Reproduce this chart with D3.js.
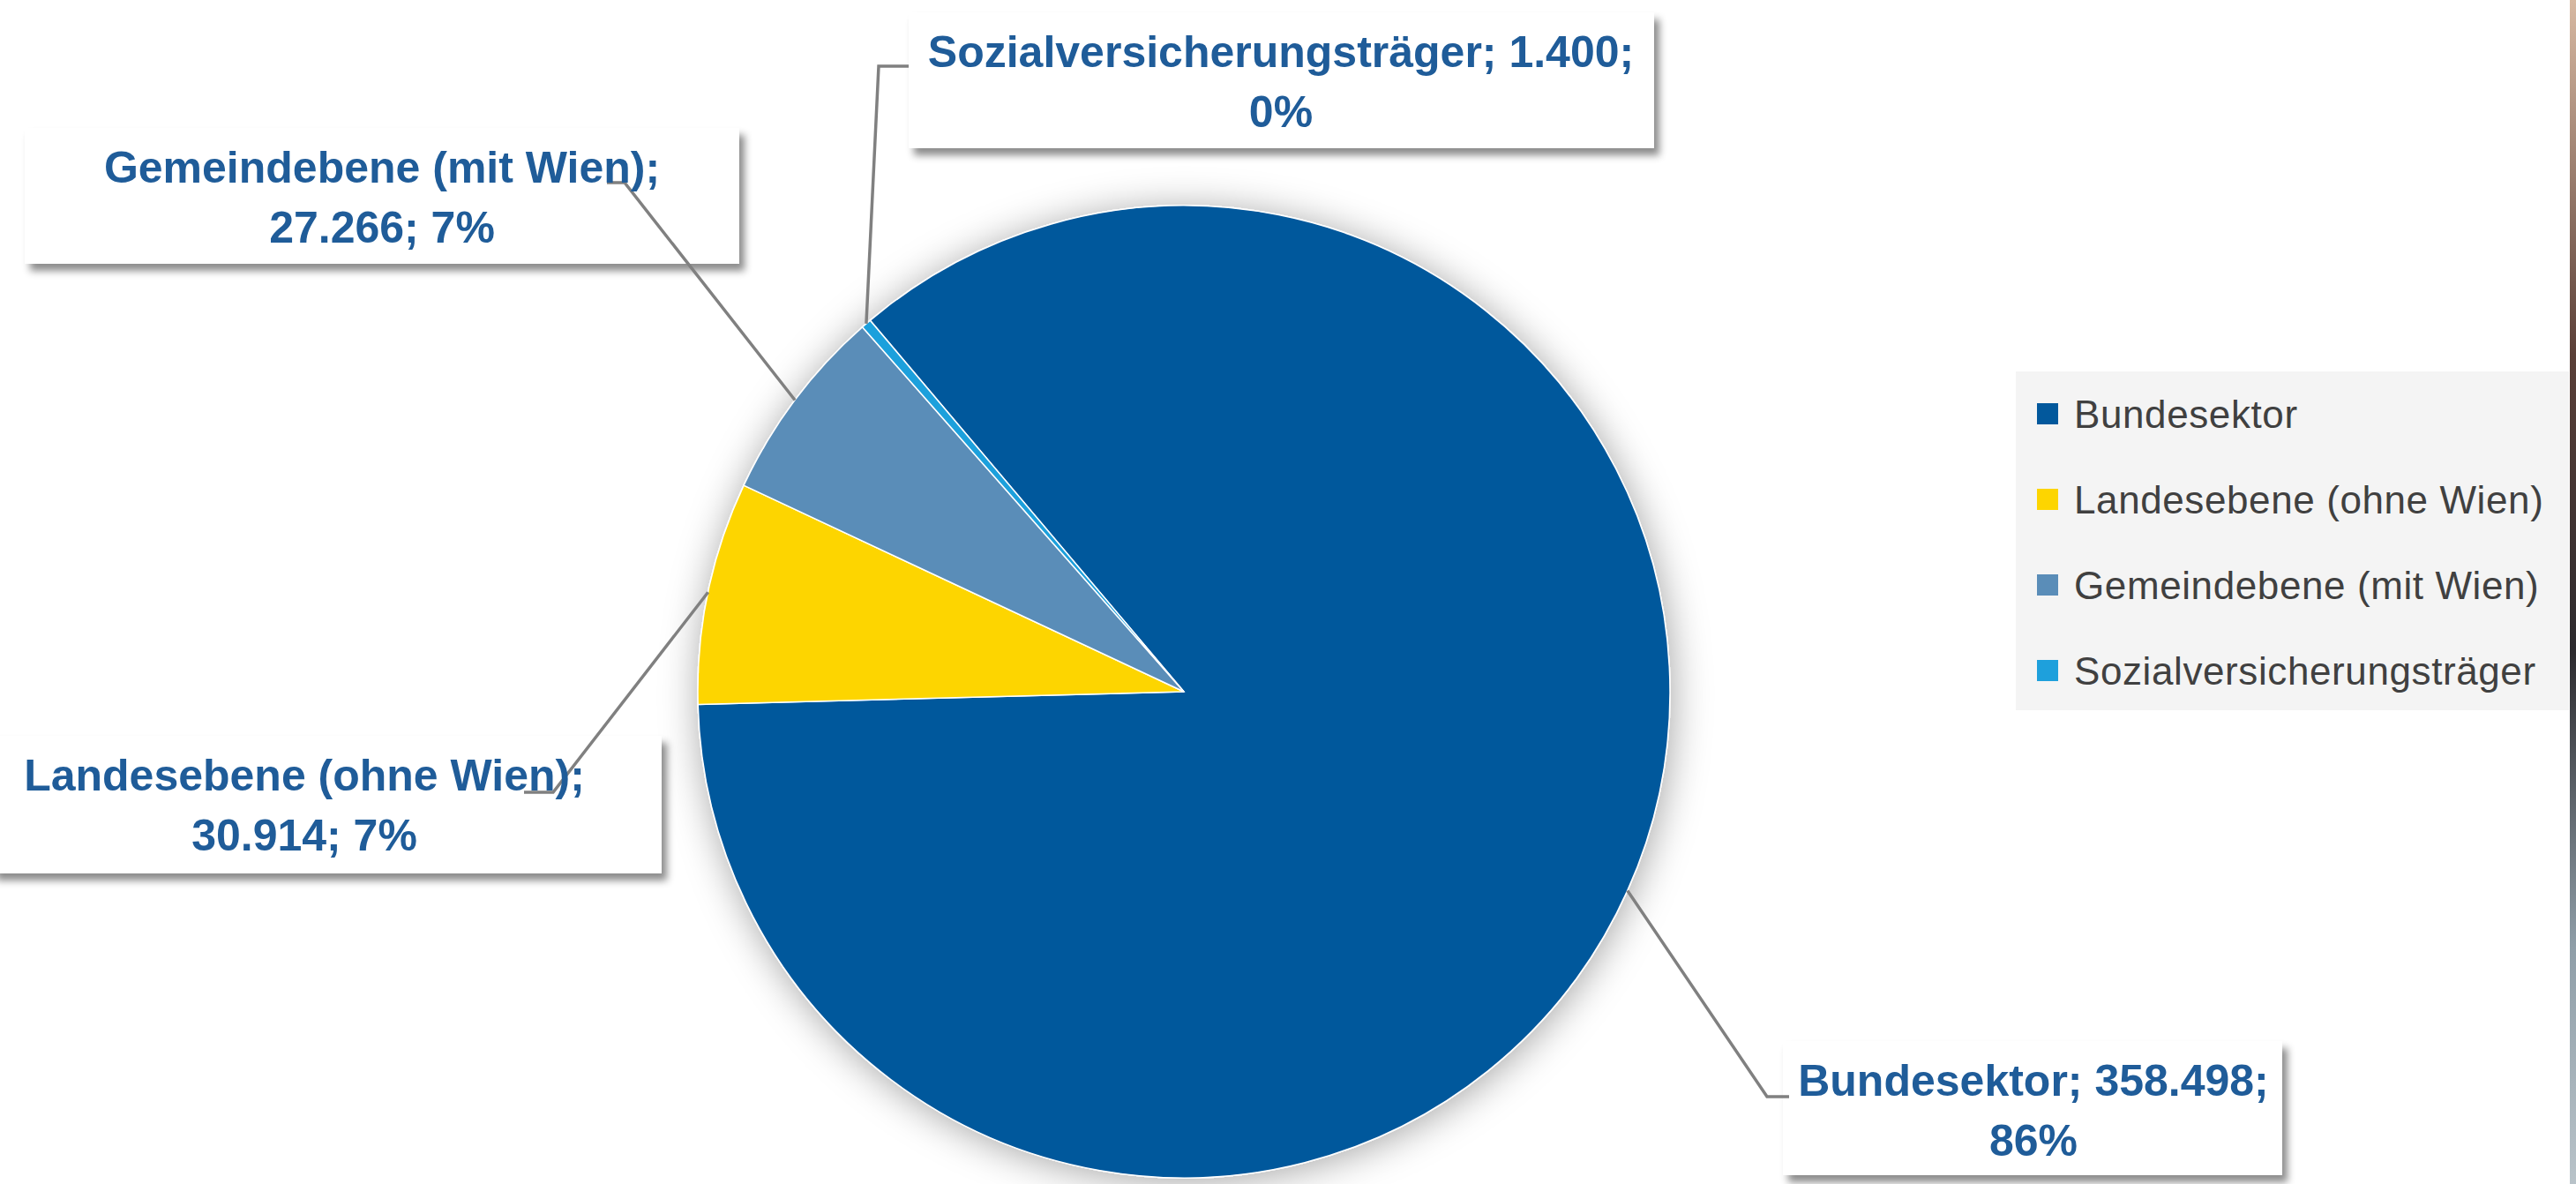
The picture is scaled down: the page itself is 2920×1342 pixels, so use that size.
<!DOCTYPE html>
<html>
<head>
<meta charset="utf-8">
<script src="https://cdn.jsdelivr.net/npm/d3@7"></script>
<style>
  html, body { margin: 0; padding: 0; background: #fff; overflow: hidden; }
  svg { display: block; }
</style>
</head>
<body>
<svg id="chart"></svg>
<script>
const categories = ["Bundesektor", "Landesebene (ohne Wien)", "Gemeindebene (mit Wien)", "Sozialversicherungsträger"];
const values = [358498, 30914, 27266, 1400];

const width = 2920;
const height = 1342;

const svg = d3.select("#chart")
    .attr("width", width)
    .attr("height", height);

const color = d3.scaleOrdinal()
    .domain(categories)
    .range(["#02589c", "#fdd500", "#5a8db8", "#1ea0dc"]);

const de = d3.formatLocale({ decimal: ",", thousands: ".", grouping: [3], currency: ["", " €"] });
const fmt = de.format(",d");

const total = d3.sum(values);
const data = categories.map((c, i) => ({ name: c, value: values[i] }));

// pie geometry
const cx = 1342, cy = 784, r = 551;
const start = -40.2 * Math.PI / 180;

const pie = d3.pie()
    .value(d => d.value)
    .sort(null)
    .startAngle(start)
    .endAngle(start + 2 * Math.PI);

const arc = d3.arc().innerRadius(0).outerRadius(r);

const defs = svg.append("defs");
defs.append("filter").attr("id", "pieShadow")
    .attr("x", "-20%").attr("y", "-20%").attr("width", "140%").attr("height", "140%")
    .append("feDropShadow")
    .attr("dx", 2).attr("dy", 4).attr("stdDeviation", 22)
    .attr("flood-color", "#000").attr("flood-opacity", 0.35);
defs.append("filter").attr("id", "boxShadow")
    .attr("x", "-10%").attr("y", "-20%").attr("width", "120%").attr("height", "150%")
    .append("feDropShadow")
    .attr("dx", 6).attr("dy", 8).attr("stdDeviation", 4)
    .attr("flood-color", "#000").attr("flood-opacity", 0.45);

const stripGrad = defs.append("linearGradient").attr("id", "strip")
    .attr("x1", 0).attr("y1", 0).attr("x2", 0).attr("y2", 1);
stripGrad.append("stop").attr("offset", "0%").attr("stop-color", "#d8b9a2");
stripGrad.append("stop").attr("offset", "30%").attr("stop-color", "#5a3f38");
stripGrad.append("stop").attr("offset", "55%").attr("stop-color", "#2c2a2e");
stripGrad.append("stop").attr("offset", "80%").attr("stop-color", "#8f9ea8");
stripGrad.append("stop").attr("offset", "100%").attr("stop-color", "#b9c3c9");

const arcs = pie(data);

const pieGroup = svg.append("g")
    .attr("transform", `translate(${cx},${cy})`);

pieGroup.append("g")
    .attr("filter", "url(#pieShadow)")
    .selectAll("path")
    .data(arcs)
    .enter().append("path")
    .attr("d", arc)
    .attr("fill", d => color(d.data.name))
    .attr("stroke", "#fff")
    .attr("stroke-width", 1.5);

// data label boxes (layout) and leader bend / end points
const labelLayout = {
    "Bundesektor": { x: 2021, y: 1180, w: 566, h: 152, tx: 2305, bend: [2003, 1243], end: [2028, 1243] },
    "Landesebene (ohne Wien)": { x: -10, y: 834, w: 760, h: 156, tx: 345, bend: [627, 898], end: [594, 898] },
    "Gemeindebene (mit Wien)": { x: 28, y: 145, w: 810, h: 154, tx: 433, bend: [708, 207], end: [688, 207] },
    "Sozialversicherungsträger": { x: 1030, y: 14, w: 845, h: 154, tx: 1452, bend: [996, 75], end: [1030, 75] }
};

const labelText = d => {
    const pct = Math.round(d.data.value / total * 100) + "%";
    if (d.data.name === "Bundesektor" || d.data.name === "Sozialversicherungsträger") {
        return [d.data.name + "; " + fmt(d.data.value) + ";", pct];
    }
    return [d.data.name + ";", fmt(d.data.value) + "; " + pct];
};

const labels = svg.append("g");

labels.selectAll("rect")
    .data(arcs)
    .enter().append("rect")
    .attr("x", d => labelLayout[d.data.name].x)
    .attr("y", d => labelLayout[d.data.name].y)
    .attr("width", d => labelLayout[d.data.name].w)
    .attr("height", d => labelLayout[d.data.name].h)
    .attr("fill", "#fff")
    .attr("filter", "url(#boxShadow)");

const outer = d3.arc().innerRadius(r).outerRadius(r);

labels.selectAll("polyline")
    .data(arcs)
    .enter().append("polyline")
    .attr("points", d => {
        const c = outer.centroid(d);
        const L = labelLayout[d.data.name];
        return [[cx + c[0], cy + c[1]], L.bend, L.end].map(p => p.join(",")).join(" ");
    })
    .attr("fill", "none")
    .attr("stroke", "#808080")
    .attr("stroke-width", 3.5);

const lineY = [0, 68];
labels.selectAll("text")
    .data(arcs)
    .enter().append("text")
    .attr("font-family", "'Liberation Sans', Arial, sans-serif")
    .attr("font-weight", "bold")
    .attr("font-size", 50)
    .attr("fill", "#1f5c99")
    .attr("text-anchor", "middle")
    .each(function (d) {
        const L = labelLayout[d.data.name];
        const t = d3.select(this);
        labelText(d).forEach((line, i) => {
            t.append("tspan")
                .attr("x", L.tx)
                .attr("y", L.y + 62 + lineY[i])
                .text(line);
        });
    });

// legend
const legend = svg.append("g").attr("transform", "translate(2285,421)");
legend.append("rect")
    .attr("width", 627).attr("height", 384)
    .attr("fill", "#f4f4f4");

const legendY = d3.scalePoint().domain(categories).range([48, 339]);

const items = legend.selectAll(".item")
    .data(categories)
    .enter().append("g")
    .attr("class", "item")
    .attr("transform", d => `translate(0,${legendY(d)})`);

items.append("rect")
    .attr("x", 24).attr("y", -12)
    .attr("width", 24).attr("height", 24)
    .attr("fill", d => color(d));

items.append("text")
    .attr("x", 66)
    .attr("y", 16)
    .attr("font-family", "'Liberation Sans', Arial, sans-serif")
    .attr("font-size", 44)
    .attr("letter-spacing", 0.6)
    .attr("fill", "#404040")
    .text(d => d);

// photo edge on the right border
svg.append("rect")
    .attr("x", 2913).attr("y", 0)
    .attr("width", 7).attr("height", height)
    .attr("fill", "url(#strip)");
</script>
</body>
</html>
